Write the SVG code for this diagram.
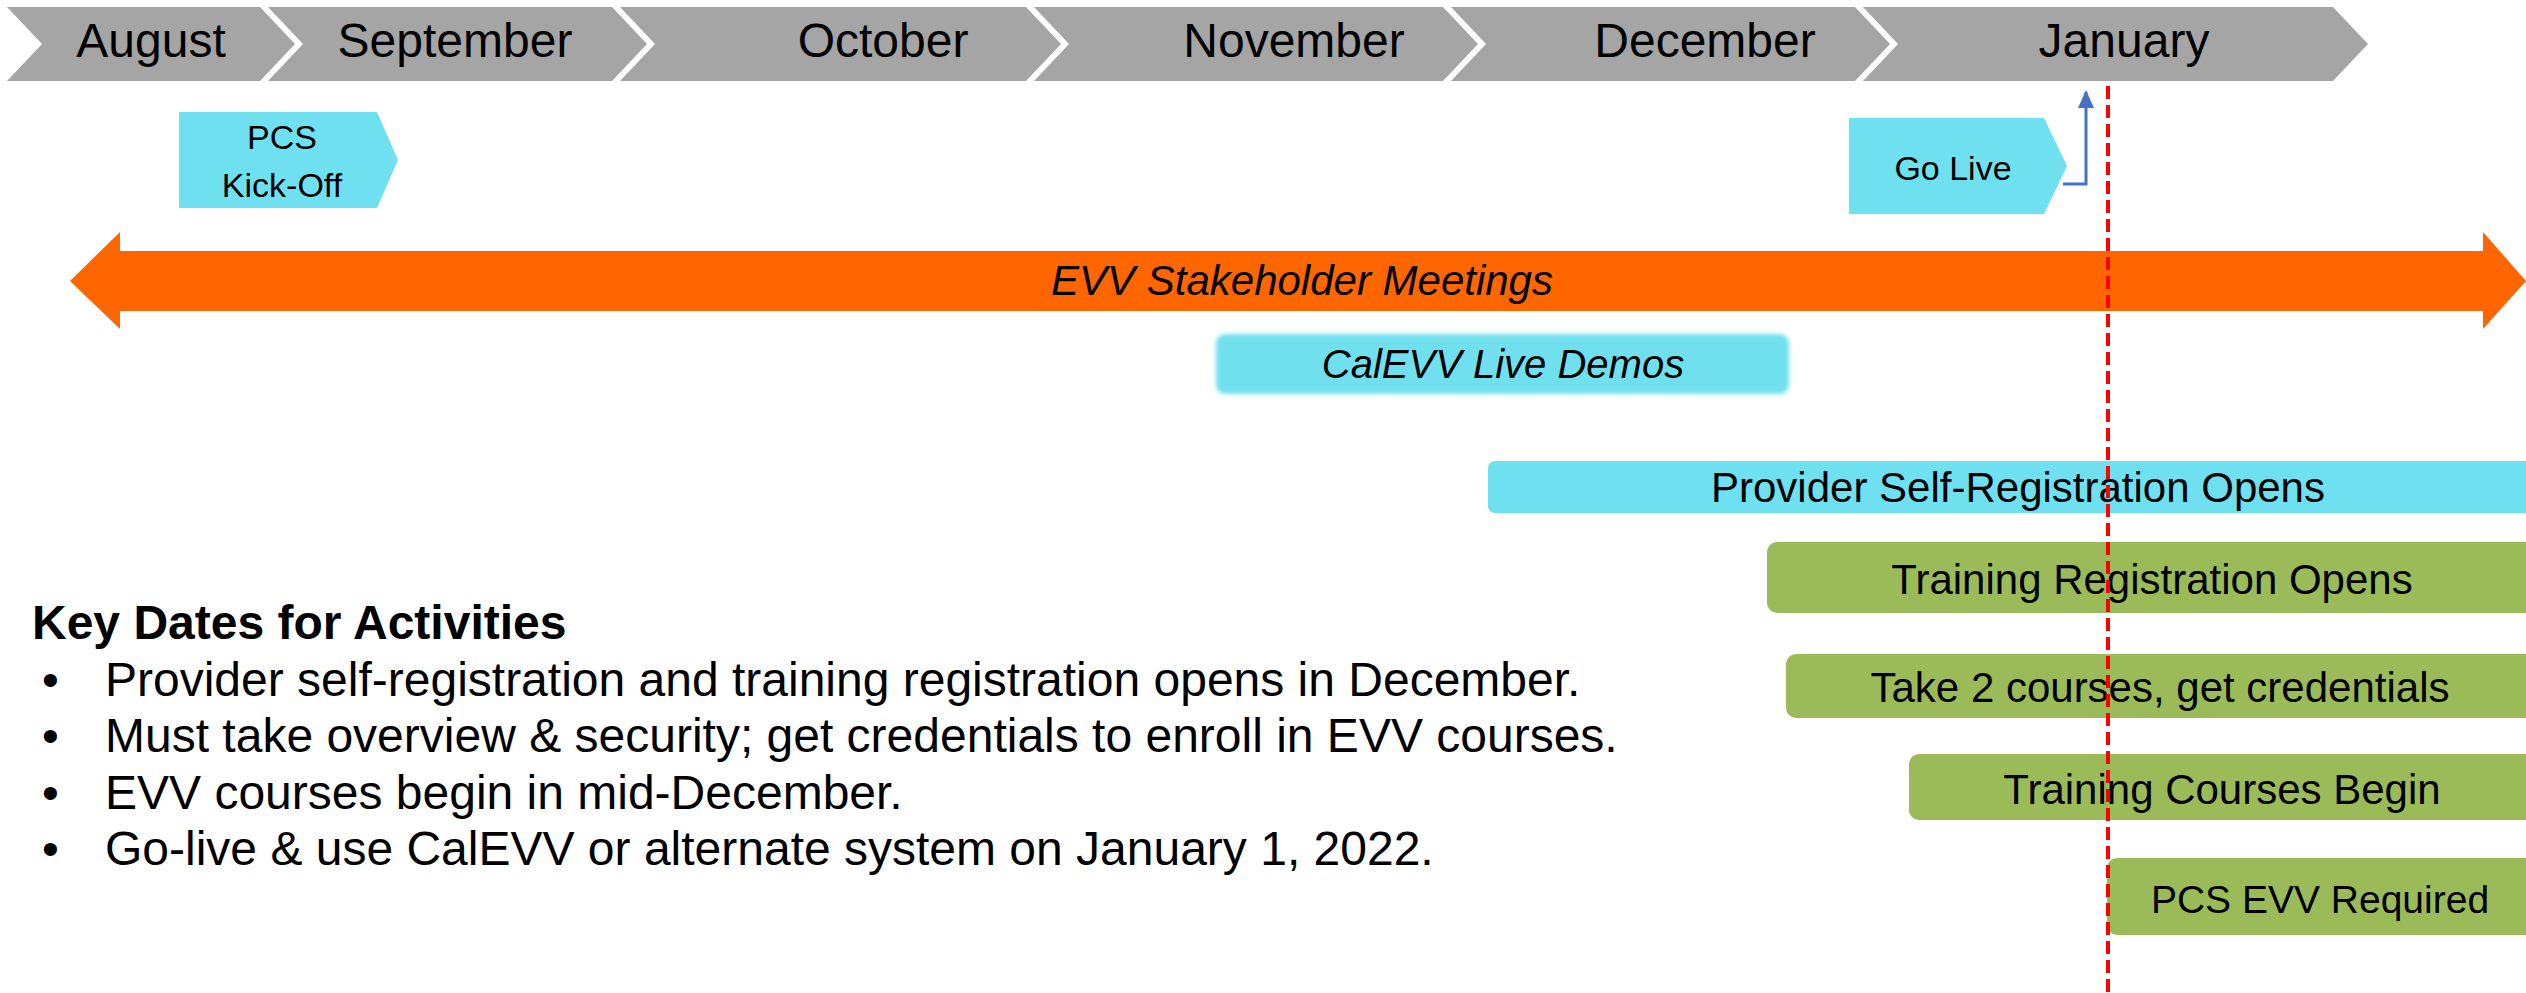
<svg xmlns="http://www.w3.org/2000/svg" width="2526" height="993" viewBox="0 0 2526 993">
<defs>
<style>
.mon{fill:#A5A5A5}
.mt{font-family:"Liberation Sans",Arial,sans-serif;font-size:48px;fill:#000;text-anchor:middle}
.cy{fill:#6FE0EF}
.gr{fill:#9BBB59}
.lbl{font-family:"Liberation Sans",Arial,sans-serif;font-size:42px;fill:#000;text-anchor:middle}
.it{font-style:italic}
.kd{font-family:"Liberation Sans",Arial,sans-serif;font-size:48px;fill:#000}
</style>
<filter id="soft" x="-5%" y="-20%" width="110%" height="140%"><feGaussianBlur stdDeviation="2"/></filter>
<marker id="ah" viewBox="0 0 18 16" markerWidth="18" markerHeight="16" refX="16" refY="8" orient="auto" markerUnits="userSpaceOnUse"><path d="M0,0 L18,8 L0,16 Z" fill="#4472C4"/></marker>
</defs>
<rect width="2526" height="993" fill="#FFFFFF"/>

<g id="months">
<g id="m-aug"><polygon class="mon" points="7,7 260,7 295,44 260,81 7,81 42,44"/><text class="mt" x="151" y="57">August</text></g>
<g id="m-sep"><polygon class="mon" points="268,7 612,7 647,44 612,81 268,81 303,44"/><text class="mt" x="455" y="57">September</text></g>
<g id="m-oct"><polygon class="mon" points="620,7 1026,7 1061,44 1026,81 620,81 655,44"/><text class="mt" x="883" y="57">October</text></g>
<g id="m-nov"><polygon class="mon" points="1034,7 1443,7 1478,44 1443,81 1034,81 1069,44"/><text class="mt" x="1294" y="57">November</text></g>
<g id="m-dec"><polygon class="mon" points="1451,7 1855,7 1890,44 1855,81 1451,81 1486,44"/><text class="mt" x="1705" y="57">December</text></g>
<g id="m-jan"><polygon class="mon" points="1863,7 2333,7 2368,44 2333,81 1863,81 1898,44"/><text class="mt" x="2124" y="57">January</text></g>
</g>

<g id="kickoff">
<polygon class="cy" points="179,112 377,112 398,160 377,208 179,208"/>
<text class="lbl" style="font-size:34px" x="282" y="149">PCS</text>
<text class="lbl" style="font-size:34px" x="282" y="197">Kick-Off</text>
</g>

<g id="golive">
<polygon class="cy" points="1849,118 2044,118 2067,166 2044,214 1849,214"/>
<text class="lbl" style="font-size:34px" x="1953" y="180">Go Live</text>
</g>

<g id="stakeholder">
<polygon fill="#FF6600" points="70,281 120,232 120,251 2483,251 2483,232 2526,281 2483,329 2483,311 120,311 120,329"/>
<text class="lbl it" x="1302" y="295">EVV Stakeholder Meetings</text>
</g>

<g id="demos">
<rect class="cy" x="1216" y="334" width="573" height="60" rx="9" filter="url(#soft)"/>
<text class="lbl it" style="font-size:40px" x="1503" y="378">CalEVV Live Demos</text>
</g>

<g id="selfreg">
<rect class="cy" x="1488" y="461" width="1050" height="52" rx="7"/>
<text class="lbl" x="2018" y="502">Provider Self-Registration Opens</text>
</g>

<g id="trainreg">
<rect class="gr" x="1767" y="542" width="775" height="71" rx="10"/>
<text class="lbl" x="2152" y="594">Training Registration Opens</text>
</g>

<g id="courses">
<rect class="gr" x="1786" y="654" width="756" height="64" rx="10"/>
<text class="lbl" x="2160" y="702">Take 2 courses, get credentials</text>
</g>

<g id="begin">
<rect class="gr" x="1909" y="754" width="633" height="66" rx="10"/>
<text class="lbl" x="2222" y="804">Training Courses Begin</text>
</g>

<g id="required">
<rect class="gr" x="2107" y="858" width="435" height="77" rx="10"/>
<text class="lbl" style="font-size:39px" x="2320" y="913">PCS EVV Required</text>
</g>

<g id="connectors">
<polyline points="2063,184 2086,184 2086,92" fill="none" stroke="#4472C4" stroke-width="3" marker-end="url(#ah)"/>
</g>

<g id="key-dates">
<text class="kd" style="font-weight:bold" x="32" y="639">Key Dates for Activities</text>
<text class="kd" x="42" y="696">•</text><text class="kd" x="105" y="696">Provider self-registration and training registration opens in December.</text>
<text class="kd" x="42" y="752">•</text><text class="kd" x="105" y="752">Must take overview &amp; security; get credentials to enroll in EVV courses.</text>
<text class="kd" x="42" y="809">•</text><text class="kd" x="105" y="809">EVV courses begin in mid-December.</text>
<text class="kd" x="42" y="865">•</text><text class="kd" x="105" y="865">Go-live &amp; use CalEVV or alternate system on January 1, 2022.</text>
</g>

<g id="golive-line">
<line x1="2108" y1="86" x2="2108" y2="993" stroke="#FF0000" stroke-width="4" stroke-dasharray="13 6"/>
</g>
</svg>
